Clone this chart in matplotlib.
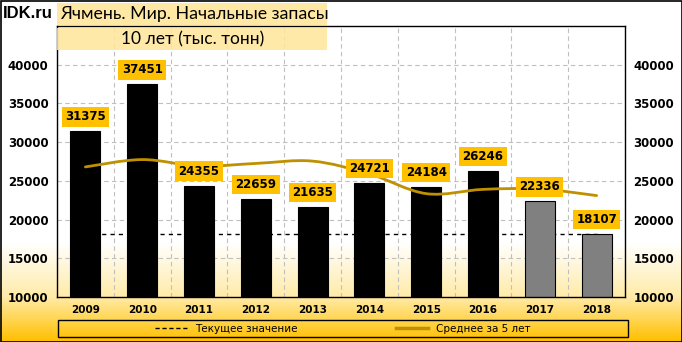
import matplotlib
matplotlib.use('Agg')
import matplotlib.pyplot as plt
import numpy as np
from matplotlib.path import Path
from matplotlib.patches import PathPatch, Rectangle
from matplotlib.colors import LinearSegmentedColormap
from matplotlib.lines import Line2D

# Data
years = ['2009', '2010', '2011', '2012', '2013', '2014', '2015', '2016', '2017', '2018']
stocks = [31375, 37451, 24355, 22659, 21635, 24721, 24184, 26246, 22336, 18107]
avg5 = [26800, 27750, 26900, 27250, 27550, 25900, 23350, 23900, 23950, 23100]
current = 18107
forecast_from = 8   # 2017 and 2018 are drawn grey

fig = plt.figure(figsize=(6.82, 3.42), dpi=100)

# Background gradient: white on top, yellow at the bottom
bg = fig.add_axes([0, 0, 1, 1], zorder=-10)
cmap = LinearSegmentedColormap.from_list(
    'bg', [(0, '#FFFFFF'), (0.71, '#FFFFFF'), (0.87, '#FFEBA8'), (1.0, '#FFC000')])
grad = np.linspace(0, 1, 342).reshape(-1, 1)
bg.imshow(grad, aspect='auto', cmap=cmap, extent=[0, 1, 1, 0])
bg.set_xlim(0, 1)
bg.set_ylim(1, 0)
bg.axis('off')
fig.patches.append(Rectangle((0.5 / 682, 0.5 / 342), 681 / 682, 341 / 342,
                             transform=fig.transFigure, fill=False,
                             ec='black', lw=1.2, zorder=5))

ax = fig.add_axes([57 / 682, 45 / 342, 568 / 682, 271 / 342])
ax.patch.set_alpha(0)
x = np.arange(len(years))

# Grid
for xv in np.arange(-0.5, len(years), 1.0):
    ax.axvline(xv, color='#BFBFBF', lw=0.8, ls=(0, (4, 3)), zorder=0)
for yv in range(15000, 45000, 5000):
    ax.axhline(yv, color='#BFBFBF', lw=0.8, ls=(0, (4, 3)), zorder=0)

# Current value line
ax.plot([0, len(years) - 1], [current, current], color='black', lw=1,
        ls=(0, (3, 3)), zorder=1)

# Bars
colors = ['black' if i < forecast_from else '#808080' for i in range(len(years))]
ax.bar(x, stocks, width=0.53, color=colors, edgecolor='black', lw=0.8, zorder=2)

# Smoothed 5-year average (Bezier curve through the points)
pts = np.column_stack([x, avg5]).astype(float)
verts = [tuple(pts[0])]
codes = [Path.MOVETO]
for i in range(len(pts) - 1):
    p0 = pts[i - 1] if i > 0 else pts[i]
    p1 = pts[i]
    p2 = pts[i + 1]
    p3 = pts[i + 2] if i + 2 < len(pts) else pts[i + 1]
    c1 = p1 + (p2 - p0) / 6.0
    c2 = p2 - (p3 - p1) / 6.0
    verts += [tuple(c1), tuple(c2), tuple(p2)]
    codes += [Path.CURVE4] * 3
ax.add_patch(PathPatch(Path(verts, codes), fill=False, ec='#BF9000', lw=2.0,
                       zorder=3, capstyle='round'))

# Value labels
for xi, v in zip(x, stocks):
    ax.annotate(str(v), (xi, v), xytext=(0, 10.5), textcoords='offset points',
                ha='center', va='center', fontsize=8.5, fontweight='bold',
                family='DejaVu Sans',
                bbox=dict(boxstyle='square,pad=0.28', fc='#FFC000', ec='none'),
                zorder=4)

ax.set_xlim(-0.5, len(years) - 0.5)
ax.set_ylim(10000, 45000)
ax.set_yticks(range(10000, 45000, 5000))
ax.set_xticks(x)
ax.set_xticklabels(years, fontsize=7.5, fontweight='bold')
ax.tick_params(axis='both', length=0)
ax.tick_params(axis='x', pad=6)
ax.tick_params(axis='y', labelsize=8.5, pad=6, labelright=True)
for lab in ax.get_yticklabels():
    lab.set_fontweight('bold')
for sp in ax.spines.values():
    sp.set_color('black')
    sp.set_linewidth(1)

# Title
fig.patches.append(Rectangle((57 / 682, (342 - 25) / 342), 270 / 682, 22 / 342,
                             transform=fig.transFigure, fc='#FFE699', ec='none',
                             alpha=0.9, zorder=6))
fig.patches.append(Rectangle((57 / 682, (342 - 50) / 342), 270 / 682, 22 / 342,
                             transform=fig.transFigure, fc='#FFE699', ec='none',
                             alpha=0.85, zorder=6))
fig.text(3 / 682, (342 - 14) / 342, 'IDK.ru', fontsize=12, fontweight='bold',
         family='Liberation Sans', va='center', ha='left', zorder=7)
fig.text(60 / 682, (342 - 14) / 342, 'Ячмень. Мир. Начальные запасы', fontsize=12.8,
         family='Lato', va='center', ha='left', zorder=7)
fig.text(193 / 682, (342 - 39) / 342, '10 лет (тыс. тонн)', fontsize=12.5,
         family='Lato', va='center', ha='center', zorder=7)

# Legend
fig.patches.append(Rectangle((58 / 682, (342 - 337) / 342), 570 / 682, 17 / 342,
                             transform=fig.transFigure, fill=False, ec='black',
                             lw=1, zorder=6))
handles = [Line2D([], [], color='black', lw=1, ls=(0, (3, 2))),
           Line2D([], [], color='#BF9000', lw=2.5)]
fig.legend(handles, ['Текущее значение', 'Среднее за 5 лет'], loc='center',
           bbox_to_anchor=(343 / 682, (342 - 328.5) / 342), ncol=2, frameon=False,
           fontsize=7.5, handlelength=3.0, handletextpad=0.8, columnspacing=9.5,
           borderpad=0)

fig.savefig('out.png', dpi=100)
